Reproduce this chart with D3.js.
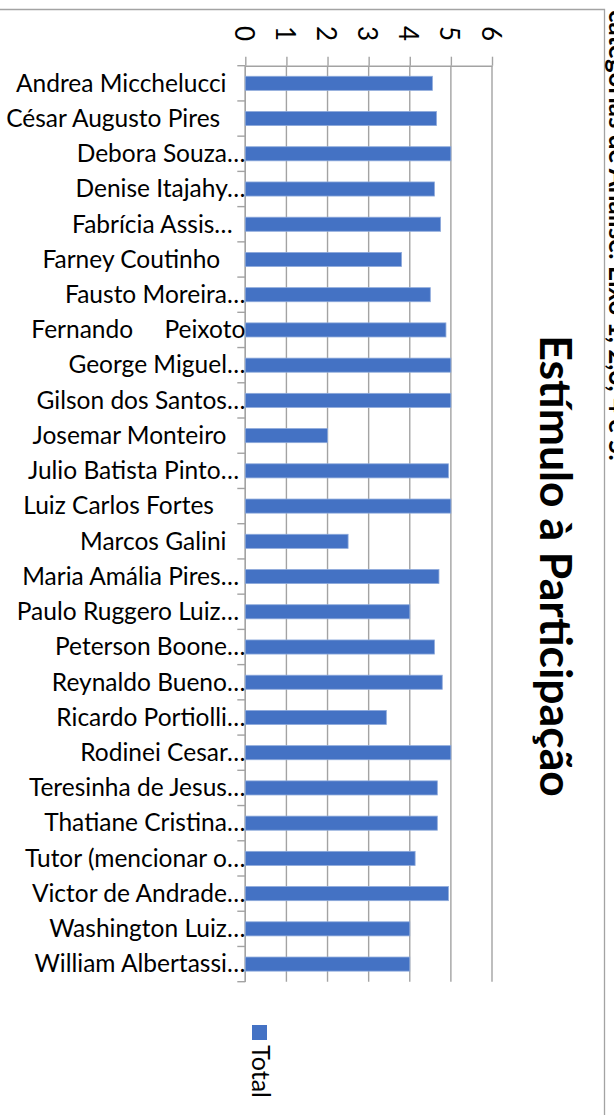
<!DOCTYPE html>
<html>
<head>
<meta charset="utf-8">
<script src="https://cdn.jsdelivr.net/npm/d3@7"></script>
<style>
  body { margin: 0; background: #fff; }
  svg text { font-family: Lato, "Open Sans", sans-serif; fill: #000; }
</style>
</head>
<body>
<div id="chart"></div>
<script>

// categories (trailing / inner spaces kept as in the source labels)
var names = [
  "Andrea Micchelucci   ", "César Augusto Pires    ", "Debora Souza…", "Denise Itajahy…",
  "Fabrícia Assis…  ", "Farney Coutinho    ", "Fausto Moreira…", "Fernando     Peixoto",
  "George Miguel…", "Gilson dos Santos…", "Josemar Monteiro   ", "Julio Batista Pinto… ",
  "Luiz Carlos Fortes     ", "Marcos Galini   ", "Maria Amália Pires… ", "Paulo Ruggero Luiz… ",
  "Peterson Boone…", "Reynaldo Bueno…", "Ricardo Portiolli…", "Rodinei Cesar…",
  "Teresinha de Jesus…", "Thatiane Cristina…", "Tutor (mencionar o…", "Victor de Andrade…",
  "Washington Luiz…", "William Albertassi…"
];
var totals = [
  4.55, 4.65, 5, 4.6, 4.75, 3.8, 4.5, 4.88,
  5, 5, 2, 4.94, 5, 2.5, 4.71, 4,
  4.6, 4.79, 3.43, 5, 4.67, 4.67, 4.13, 4.94,
  4, 4
];
var tickValues = [0, 1, 2, 3, 4, 5, 6];
var seriesName = "Total";
var title = "Estímulo à Participação";
var sideNote = "categorias de Análise: Eixo 1, 2,3, 4 e 5.";

var width = 614,
    height = 1115,
    plot = {left: 245.3, right: 492, top: 65.7, bottom: 981.7},
    gridColor = "#a3a3a3",
    barColor = "#4472c4";

var svg = d3.select("#chart").append("svg")
  .attr("width", width)
  .attr("height", height);

// outer frame (top and right edges only are visible)
svg.append("path")
  .attr("d", "M0,9.5H604.5V" + height)
  .attr("fill", "none")
  .attr("stroke", gridColor)
  .attr("stroke-width", 1.3);

var x = d3.scaleLinear()
  .domain([0, 6])
  .range([plot.left, plot.right]);

var y = d3.scaleBand()
  .domain(names)
  .range([plot.top, plot.bottom])
  .paddingInner(0.6)
  .paddingOuter(0.3);

// vertical gridlines
svg.append("g").selectAll("line")
  .data(tickValues)
  .enter()
  .append("line")
  .attr("x1", function(d) { return x(d); })
  .attr("x2", function(d) { return x(d); })
  .attr("y1", plot.top)
  .attr("y2", plot.bottom)
  .attr("stroke", gridColor)
  .attr("stroke-width", 1.4);

// value axis on top, labels turned 90 degrees
var xAxis = svg.append("g")
  .attr("transform", "translate(0," + plot.top + ")")
  .call(d3.axisTop(x)
    .tickValues(tickValues)
    .tickFormat(d3.format("d"))
    .tickSizeInner(9)
    .tickSizeOuter(0));

xAxis.select(".domain").attr("stroke", gridColor).attr("stroke-width", 1.4);
xAxis.selectAll(".tick line").attr("stroke", gridColor).attr("stroke-width", 1.4);
xAxis.selectAll(".tick text")
  .attr("x", 0)
  .attr("y", 0)
  .attr("dy", "0.42em")
  .attr("text-anchor", "middle")
  .attr("transform", "translate(0," + (33.5 - plot.top) + ") rotate(90)")
  .style("font-size", "26px")
  .style("font-family", "Lato, sans-serif");

// category axis: line + ticks between categories
var step = y.step(),
    offset = (step - y.bandwidth()) / 2,
    bounds = names.map(function(d) { return y(d) - offset; }).concat([plot.bottom]);

svg.append("line")
  .attr("x1", plot.left).attr("x2", plot.left)
  .attr("y1", plot.top).attr("y2", plot.bottom)
  .attr("stroke", gridColor)
  .attr("stroke-width", 1.4);

svg.append("g").selectAll("line")
  .data(bounds)
  .enter()
  .append("line")
  .attr("x1", plot.left - 8)
  .attr("x2", plot.left)
  .attr("y1", function(d) { return d; })
  .attr("y2", function(d) { return d; })
  .attr("stroke", gridColor)
  .attr("stroke-width", 1.4);

svg.append("g").selectAll("text")
  .data(names)
  .enter()
  .append("text")
  .attr("xml:space", "preserve")
  .style("white-space", "pre")
  .attr("x", plot.left)
  .attr("y", function(d) { return y(d) + y.bandwidth() / 2; })
  .attr("dy", "0.34em")
  .attr("text-anchor", "end")
  .style("font-size", "24.5px")
  .text(function(d) { return d; });

// bars
svg.append("g").selectAll("rect")
  .data(totals)
  .enter()
  .append("rect")
  .attr("x", x(0))
  .attr("y", function(d, i) { return y(names[i]); })
  .attr("width", function(d) { return x(d) - x(0); })
  .attr("height", y.bandwidth())
  .attr("fill", barColor)
  .attr("stroke", "#8eaadb")
  .attr("stroke-width", 0.8);

// title, rotated
svg.append("text")
  .attr("transform", "translate(540,566) rotate(90)")
  .attr("text-anchor", "middle")
  .style("font-size", "44.5px")
  .style("font-weight", "bold")
  .text(title);

// text cut by the right edge
svg.append("text")
  .attr("transform", "translate(609,10) rotate(90)")
  .attr("text-anchor", "start")
  .style("font-size", "26px")
  .style("font-weight", "bold")
  .text(sideNote);

// legend
svg.append("rect")
  .attr("x", 252)
  .attr("y", 1025)
  .attr("width", 15)
  .attr("height", 15)
  .attr("fill", barColor);

svg.append("text")
  .attr("transform", "translate(251.5,1045) rotate(90)")
  .style("font-size", "25px")
  .text(seriesName);

</script>
</body>
</html>
